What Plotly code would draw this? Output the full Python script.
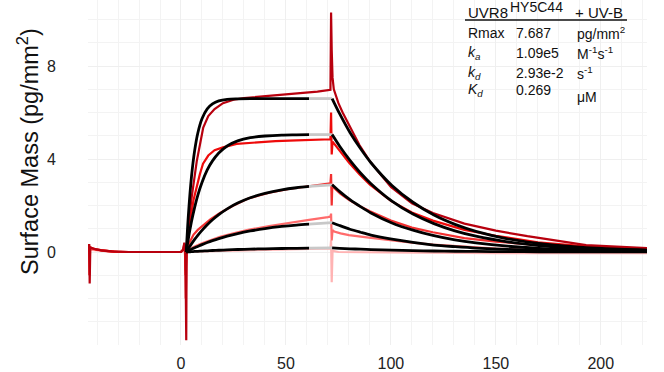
import plotly.graph_objects as go

# ---------------- data ----------------
# measured sensorgrams (5 concentrations)
d1_t = [-44.3, -43.7, -43.5, -43.2, -42, -38, -33, -25, -10, 0, 1.0, 1.6, 2.1, 2.3, 2.5, 2.7, 3.0, 3.5, 4, 5, 6, 7.5, 9, 10.6, 13, 16, 20, 25, 30, 38, 45, 55, 65, 71.2,
        71.5, 71.8, 72.2, 72.8, 74, 75, 77, 80, 85, 90, 100, 110, 120, 135, 150, 165, 180, 193, 205, 222]
d1_y = [0.3, 0.3, -1.35, 0.2, 0.15, 0.07, 0.03, 0.0, 0.0, 0.0, 0.1, 0.4, 0.1, -3.8, -3.8, 0.2, 0.6, 1.1, 1.5, 2.3, 3.0, 3.9, 4.6, 5.35, 5.85, 6.15, 6.4, 6.55, 6.62, 6.68, 6.75, 6.82, 6.9, 6.98,
        10.3, 8.7, 7.5, 7.0, 6.65, 6.4, 6.0, 5.45, 4.6, 3.9, 2.8, 2.1, 1.68, 1.22, 0.92, 0.68, 0.48, 0.3, 0.24, 0.17]

d2_t = [-44.3, -43.8, -43.6, -43.3, -41, -37, -32, -25, -10, 0, 1.0, 1.6, 2.1, 2.3, 2.6, 3.0, 4, 5, 6, 7.5, 9, 10.5, 13, 16, 20, 26.5, 35, 45, 55, 65, 71.2,
        71.5, 71.8, 72.2, 74, 76, 80, 85, 90, 100, 110, 120, 135, 150, 170, 190, 210, 222]
d2_y = [0.25, 0.25, -1.0, 0.2, 0.12, 0.06, 0.02, 0.0, 0.0, 0.0, 0.1, 0.35, 0.1, -2.0, 0.1, 0.4, 1.1, 1.7, 2.25, 2.85, 3.35, 3.8, 4.15, 4.38, 4.5, 4.65, 4.72, 4.77, 4.8, 4.83, 4.85,
        6.0, 4.2, 4.75, 4.55, 4.3, 3.85, 3.35, 2.9, 2.2, 1.7, 1.35, 0.95, 0.7, 0.42, 0.27, 0.18, 0.14]

d3_t = [-44.3, -43, -40, -35, -30, -10, 0, 1.2, 1.8, 2.2, 2.6, 4, 6, 8, 10.5, 14, 18.6, 25, 32, 42, 52, 61, 70, 71.2,
        71.5, 71.8, 72.1, 73, 76, 80, 85, 90, 100, 110, 120, 135, 150, 170, 190, 210, 222]
d3_y = [0.2, 0.18, 0.1, 0.04, 0.0, 0.0, 0.0, 0.1, 0.3, -1.0, 0.05, 0.4, 0.75, 0.95, 1.15, 1.4, 1.68, 2.0, 2.3, 2.55, 2.72, 2.82, 2.92, 2.95,
        3.35, 2.0, 2.9, 2.75, 2.5, 2.25, 1.98, 1.75, 1.35, 1.05, 0.85, 0.6, 0.45, 0.3, 0.2, 0.15, 0.12]

d4_t = [-44.3, -43, -40, -35, -30, -10, 0, 1.2, 1.8, 2.2, 2.6, 4, 6, 10, 14, 18.6, 25, 32, 42, 52, 61, 70, 71.2,
        71.5, 71.8, 72.2, 73, 76, 80, 88.5, 100, 110, 120, 135, 150, 170, 190, 210, 222]
d4_y = [0.15, 0.13, 0.08, 0.03, 0.0, 0.0, 0.0, 0.1, 0.3, -0.8, 0.03, 0.1, 0.22, 0.38, 0.52, 0.65, 0.8, 0.95, 1.12, 1.27, 1.38, 1.5, 1.53,
        1.65, 0.5, 0.95, 0.88, 0.8, 0.73, 0.63, 0.5, 0.4, 0.32, 0.22, 0.15, 0.08, 0.05, 0.03, 0.02]

d5_t = [-44.3, -43, -40, -35, -30, -10, 0, 1.2, 1.8, 2.2, 2.6, 20, 40, 60, 71.2,
        71.5, 71.8, 72.2, 75, 100, 150, 222]
d5_y = [0.1, 0.09, 0.05, 0.02, 0.0, 0.0, 0.0, 0.1, 0.3, -0.6, 0.0, 0.05, 0.1, 0.13, 0.15,
        0.5, -1.3, 0.05, 0.0, -0.02, -0.05, -0.05]

# fitted curves (association, gap, dissociation)
fit_t_assoc = [2.5, 3.5, 5, 6.5, 8, 10, 12.5, 15, 18, 22, 27, 33, 40, 48, 55, 61]
fit1_assoc = [0, 1.56, 3.24, 4.36, 5.11, 5.73, 6.16, 6.37, 6.50, 6.57, 6.59, 6.6, 6.6, 6.6, 6.6, 6.6]
fit2_assoc = [0, 0.57, 1.31, 1.92, 2.44, 2.99, 3.53, 3.92, 4.26, 4.56, 4.78, 4.92, 4.99, 5.03, 5.04, 5.05]
fit3_assoc = [0, 0.146, 0.35, 0.54, 0.716, 0.93, 1.17, 1.385, 1.607, 1.856, 2.104, 2.332, 2.523, 2.674, 2.764, 2.82]
fit4_assoc = [0, 0.047, 0.116, 0.18, 0.24, 0.318, 0.408, 0.489, 0.578, 0.683, 0.795, 0.905, 1.009, 1.099, 1.16, 1.202]
fit5_assoc = [0, 0.006, 0.015, 0.023, 0.031, 0.041, 0.053, 0.064, 0.076, 0.091, 0.107, 0.122, 0.138, 0.151, 0.16, 0.168]

gap_t = [61, 72]
gap1 = [6.6, 6.6]
gap2 = [5.05, 5.05]
gap3 = [2.82, 2.89]
gap4 = [1.202, 1.26]
gap5 = [0.168, 0.177]

fit_t_diss = [72, 75.5, 80.5, 85.5, 90.5, 100.5, 110.5, 120.5, 130.5, 140.5, 155.5, 170.5, 185.5, 200.5, 222]
fit1_diss = [6.6, 5.96, 5.14, 4.45, 3.84, 2.86, 2.14, 1.59, 1.19, 0.89, 0.57, 0.37, 0.24, 0.15, 0.08]
fit2_diss = [5.05, 4.56, 3.94, 3.40, 2.94, 2.19, 1.63, 1.22, 0.91, 0.68, 0.44, 0.28, 0.18, 0.12, 0.06]
fit3_diss = [2.89, 2.61, 2.25, 1.95, 1.68, 1.25, 0.94, 0.70, 0.52, 0.39, 0.25, 0.16, 0.10, 0.07, 0.035]
fit4_diss = [1.26, 1.14, 0.98, 0.85, 0.73, 0.55, 0.41, 0.30, 0.23, 0.17, 0.11, 0.07, 0.045, 0.03, 0.015]
fit5_diss = [0.177, 0.16, 0.138, 0.12, 0.103, 0.077, 0.057, 0.043, 0.032, 0.024, 0.015, 0.01, 0.006, 0.004, 0.002]

x_ticks = [0, 50, 100, 150, 200]
y_ticks = [0, 4, 8]

header_main = "UVR8"
header_sup = "HY5C44"
header_tail = "+ UV-B"
table_labels = ["Rmax", "<i>k<sub>a</sub></i>", "<i>k<sub>d</sub></i>", "<i>K<sub>d</sub></i>"]
table_values = ["7.687", "1.09e5", "2.93e-2", "0.269"]
table_units = ["pg/mm<sup>2</sup>", "M<sup>-1</sup>s<sup>-1</sup>", "s<sup>-1</sup>", "μM"]

# ---------------- figure ----------------
FONT = "Liberation Sans, Arial, sans-serif"
fig = go.Figure()

data_series = [
    (d5_t, d5_y, "#ffb3b3"),
    (d4_t, d4_y, "#ff6b6b"),
    (d3_t, d3_y, "#f23030"),
    (d2_t, d2_y, "#ee0a0a"),
    (d1_t, d1_y, "#b8000e"),
]
for t, y, c in data_series:
    fig.add_trace(go.Scatter(x=t, y=y, mode="lines", line=dict(color=c, width=2.2),
                             showlegend=False, hoverinfo="skip"))

fits = [
    (fit1_assoc, gap1, fit1_diss),
    (fit2_assoc, gap2, fit2_diss),
    (fit3_assoc, gap3, fit3_diss),
    (fit4_assoc, gap4, fit4_diss),
    (fit5_assoc, gap5, fit5_diss),
]
for a, g, d in fits:
    fig.add_trace(go.Scatter(x=fit_t_assoc, y=a, mode="lines",
                             line=dict(color="#000000", width=2.8, shape="spline", smoothing=0.8),
                             showlegend=False, hoverinfo="skip"))
    fig.add_trace(go.Scatter(x=gap_t, y=g, mode="lines",
                             line=dict(color="#c8c8c8", width=2.8),
                             showlegend=False, hoverinfo="skip"))
    fig.add_trace(go.Scatter(x=fit_t_diss, y=d, mode="lines",
                             line=dict(color="#000000", width=2.8, shape="spline", smoothing=0.8),
                             showlegend=False, hoverinfo="skip"))

L, R, T, B = 88, 17, 0, 27
W, H = 664, 372
PW, PH = W - L - R, H - T - B


def px2paper(px, py):
    return (px - L) / PW, (H - B - py) / PH


annotations = []
ax, ay = px2paper(28, 152)
annotations.append(dict(text="Surface Mass (pg/mm<sup>2</sup>)", textangle=-90, xref="paper", yref="paper",
                        x=ax, y=ay, xanchor="center", yanchor="middle", showarrow=False,
                        font=dict(family=FONT, size=23.5, color="#111111")))

for col_px, row_px, txt, sz in ((466, 12.5, header_main, 15), (508, 7, header_sup, 14), (573, 12.5, header_tail, 15)):
    hx, hy = px2paper(col_px, row_px)
    annotations.append(dict(text=txt, xref="paper", yref="paper", x=hx, y=hy,
                            xanchor="left", yanchor="middle", showarrow=False,
                            font=dict(family=FONT, size=sz, color="#111111")))

row_y = [33, 53, 73, 90]
for i in range(4):
    for col_px, txt in ((466, table_labels[i]), (514, table_values[i]), (575, table_units[i])):
        yy = row_y[i]
        if txt == "μM":
            yy = 97
        px_, py_ = px2paper(col_px, yy)
        annotations.append(dict(text=txt, xref="paper", yref="paper", x=px_, y=py_,
                                xanchor="left", yanchor="middle", showarrow=False,
                                font=dict(family=FONT, size=14, color="#111111")))

ux0, uy = px2paper(465, 20)
ux1, _ = px2paper(627, 20)

fig.update_layout(
    width=W, height=H,
    margin=dict(l=L, r=R, t=T, b=B, pad=0),
    paper_bgcolor="white", plot_bgcolor="white",
    annotations=annotations,
    shapes=[dict(type="line", xref="paper", yref="paper", x0=ux0, x1=ux1, y0=uy, y1=uy,
                 line=dict(color="#111111", width=1.5))],
    xaxis=dict(range=[-44.3, 222], tickvals=x_ticks, showgrid=True, gridcolor="#efefef", gridwidth=1,
               minor=dict(dtick=10, tick0=0, showgrid=True, gridcolor="#f3f3f3", gridwidth=1),
               zeroline=False, showline=False, ticks="outside", ticklen=4, tickcolor="rgba(0,0,0,0)",
               tickfont=dict(family=FONT, size=16, color="#222222")),
    yaxis=dict(range=[-4.0, 10.84], tickvals=y_ticks, showgrid=True, gridcolor="#efefef", gridwidth=1,
               minor=dict(dtick=1, tick0=0, showgrid=True, gridcolor="#f3f3f3", gridwidth=1),
               zeroline=False, showline=False, ticks="outside", ticklen=28, tickcolor="rgba(0,0,0,0)",
               tickfont=dict(family=FONT, size=16, color="#222222")),
)

fig.write_html("out.html")
